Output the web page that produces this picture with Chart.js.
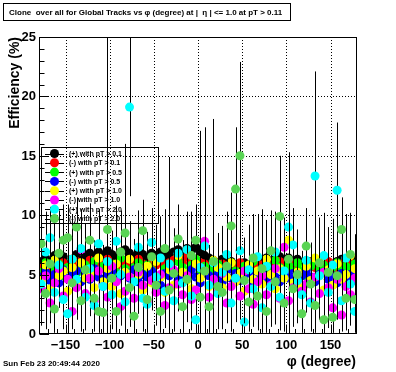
<!DOCTYPE html>
<html>
<head>
<meta charset="utf-8">
<script src="https://cdn.jsdelivr.net/npm/chart.js@4.4.1/dist/chart.umd.min.js"></script>
<style>
  html, body { margin: 0; padding: 0; background: #fff; }
  #wrap { width: 396px; height: 372px; }
</style>
</head>
<body>
<div id="wrap"><canvas id="c" width="396" height="372"></canvas></div>
<script>
// --- DATA ---
const phi = [
  -177.5,-172.5,-167.5,-162.5,-157.5,-152.5,-147.5,-142.5,-137.5,-132.5,
  -127.5,-122.5,-117.5,-112.5,-107.5,-102.5,-97.5,-92.5,-87.5,-82.5,
  -77.5,-72.5,-67.5,-62.5,-57.5,-52.5,-47.5,-42.5,-37.5,-32.5,
  -27.5,-22.5,-17.5,-12.5,-7.5,-2.5,2.5,7.5,12.5,17.5,
  22.5,27.5,32.5,37.5,42.5,47.5,52.5,57.5,62.5,67.5,
  72.5,77.5,82.5,87.5,92.5,97.5,102.5,107.5,112.5,117.5,
  122.5,127.5,132.5,137.5,142.5,147.5,152.5,157.5,162.5,167.5,
  172.5,177.5
];
const seriesLabels = [
  '(+) with pT > 0.1', '(-) with pT > 0.1', '(+) with pT > 0.5', '(-) with pT > 0.5',
  '(+) with pT > 1.0', '(-) with pT > 1.0', '(+) with pT > 2.0', '(-) with pT > 2.0'
];
const xTicks = [-150, -100, -50, 0, 50, 100, 150];
const yTicks = [0, 5, 10, 15, 20, 25];

const effPos01 = [
  6.1,6.4,5.9,6.6,6.2,6.5,6.0,6.3,6.7,6.2, 6.5,6.8,6.3,6.9,6.6,7.0,6.7,6.4,6.9,7.1,
  6.8,6.5,7.0,6.7,6.4,6.8,6.6,6.9,6.5,6.7, 6.9,7.1,6.8,7.2,7.0,7.3,6.9,6.6,6.4,6.2,
  6.0,6.3,5.9,6.1,5.8,5.7,6.0,5.8,6.1,6.0, 6.2,6.4,6.0,6.3,6.5,6.2,6.4,6.1,6.3,6.0,
  5.9,6.1,5.7,5.8,5.5,5.6,5.9,6.1,6.3,6.0, 6.4,6.2
];
const effNeg01 = [
  5.6,5.9,5.4,5.8,5.7,6.0,5.5,5.8,6.1,5.7, 5.9,6.2,5.6,6.0,5.8,6.3,5.9,5.7,6.1,6.2,
  5.8,6.0,6.3,5.9,5.7,6.1,5.8,6.2,5.9,6.0, 6.2,6.4,6.0,6.5,6.1,6.3,6.0,5.9,5.7,5.8,
  5.6,5.9,5.7,5.5,5.8,6.0,5.6,5.4,5.7,5.9, 5.8,6.0,5.7,5.9,6.1,5.8,5.6,5.9,5.7,5.5,
  5.8,6.0,5.6,5.9,5.7,6.1,5.8,5.5,5.9,5.7, 6.0,5.6
];
const effPos05 = [
  5.2,6.0,4.8,5.5,5.9,4.9,5.6,6.3,5.1,5.4, 5.8,5.0,6.1,5.3,5.7,4.7,5.9,5.2,6.4,5.5,
  4.9,5.6,6.0,5.1,5.8,5.4,6.2,4.8,5.5,5.9, 5.3,6.1,5.6,5.0,5.8,6.3,5.2,5.7,4.9,5.5,
  5.9,5.1,5.6,6.0,5.3,4.8,5.7,5.4,6.1,5.0, 5.5,5.9,5.2,6.2,5.6,5.0,5.8,5.3,6.0,5.5,
  4.9,5.7,6.1,5.4,5.8,5.1,5.6,6.0,5.3,5.7, 5.2,5.9
];
const effNeg05 = [
  4.8,5.2,4.5,5.0,4.3,5.4,4.7,4.9,5.3,4.4, 5.1,4.6,5.5,4.8,4.2,5.0,5.3,4.5,4.9,5.2,
  4.7,5.4,4.4,5.0,4.8,5.3,4.6,4.1,5.1,4.9, 5.2,4.5,5.0,4.7,5.4,4.8,4.3,5.1,4.9,4.6,
  5.0,4.4,5.3,4.7,5.1,4.5,4.9,5.2,4.3,4.8, 5.4,4.6,5.0,4.8,4.4,5.2,4.7,5.1,4.5,4.9,
  5.3,4.8,4.4,5.0,5.2,4.6,4.9,4.3,5.1,4.7, 5.0,4.5
];
const effPos10 = [
  4.5,5.8,3.8,6.2,4.9,5.3,3.6,5.6,4.2,6.0, 4.7,5.1,3.9,6.4,4.4,5.5,4.0,5.9,3.4,5.2,
  6.3,4.6,5.0,3.7,5.7,4.3,6.1,4.8,3.5,5.4, 4.1,6.6,5.2,4.5,3.8,5.9,4.7,5.3,4.0,6.2,
  5.6,3.9,4.8,6.0,4.4,5.1,3.6,5.8,4.6,5.3, 4.2,6.3,5.0,3.8,5.5,4.7,7.9,4.3,5.2,3.9,
  5.7,4.5,6.4,4.9,3.7,5.4,4.1,5.9,4.6,5.0, 6.6,5.5
];
const effNeg10 = [
  3.8,4.9,2.6,4.3,5.5,3.2,4.6,1.9,3.9,7.1, 3.4,4.7,2.8,5.3,4.0,3.1,5.7,4.4,2.3,3.6,
  4.8,3.0,5.2,4.1,2.7,4.5,3.5,5.0,2.4,3.9, 5.4,4.2,3.3,4.9,2.9,3.7,5.6,7.8,3.1,4.6,
  3.5,5.1,2.6,4.0,4.7,3.2,5.3,3.8,2.5,4.4, 4.9,3.3,4.1,5.5,3.0,7.3,2.8,3.9,5.0,3.6,
  4.2,2.7,4.8,3.4,5.2,3.9,2.2,4.6,1.6,4.0, 3.3,4.7
];
const effPos20 = [
  4.2,6.9,8.1,3.5,5.8,2.9,1.7,6.3,4.6,7.2, 3.1,5.5,2.4,7.6,4.0,6.1,3.3,7.8,5.0,2.7,
  19.1,4.4,7.3,3.0,2.5,7.7,4.8,6.4,3.6,5.9, 2.8,6.8,4.3,7.1,3.2,1.2,5.6,7.4,4.1,6.0,
  3.4,5.2,6.7,2.6,4.7,7.0,1.0,5.4,3.8,6.5, 2.2,5.7,4.0,6.9,3.1,5.3,9.0,7.5,4.5,3.3,
  6.2,2.6,13.3,4.9,6.6,3.5,5.8,12.1,2.8,6.4, 4.2,1.9
];
const effNeg20 = [
  7.6,3.4,5.9,2.1,6.8,7.9,8.1,4.3,9.0,2.8, 5.4,7.9,3.0,1.9,1.8,8.8,4.7,1.9,6.9,8.5,
  3.9,1.5,5.6,8.7,2.9,6.5,4.1,1.9,7.2,3.7, 5.1,8.0,2.3,4.6,6.6,7.9,3.1,5.3,2.3,6.1,
  4.0,3.5,5.7,9.1,12.2,15.0,4.5,2.7,6.4,3.2, 5.5,1.9,7.0,4.4,9.9,2.6,6.3,3.8,5.0,1.7,
  7.4,4.2,2.4,6.0,1.2,5.2,1.4,4.9,8.8,3.0, 6.7,2.9
];

const errPos01 = [
  0.6,0.7,0.5,0.8,0.6,0.7,0.5,0.6,0.8,0.6, 0.7,0.8,0.6,0.9,0.7,0.8,0.7,0.6,0.8,0.9,
  0.7,0.6,0.8,0.7,0.6,0.8,0.7,0.9,0.6,0.7, 0.8,0.9,0.7,0.9,0.8,0.9,0.7,0.6,0.6,0.5,
  0.5,0.6,0.5,0.6,0.5,0.5,0.6,0.5,0.6,0.5, 0.6,0.7,0.6,0.7,0.7,0.6,0.7,0.6,0.6,0.5,
  0.5,0.6,0.5,0.5,0.4,0.5,0.5,0.6,0.7,0.6, 0.7,0.6
];
const errNeg01 = [
  0.5,0.6,0.5,0.7,0.6,0.6,0.5,0.6,0.7,0.5, 0.6,0.7,0.5,0.7,0.6,0.8,0.6,0.6,0.7,0.7,
  0.6,0.7,0.8,0.6,0.6,0.7,0.6,0.8,0.6,0.7, 0.7,0.8,0.7,0.8,0.7,0.8,0.7,0.6,0.6,0.6,
  0.5,0.6,0.5,0.5,0.6,0.6,0.5,0.5,0.6,0.6, 0.6,0.7,0.6,0.6,0.7,0.6,0.6,0.6,0.5,0.5,
  0.6,0.6,0.5,0.6,0.5,0.6,0.6,0.5,0.6,0.5, 0.6,0.5
];
const errPos05 = [
  1.3,1.6,1.1,1.4,1.7,1.2,1.5,1.9,1.2,1.4, 1.6,1.2,1.8,1.3,1.5,1.1,1.7,1.3,1.9,1.4,
  1.2,1.5,1.7,1.3,1.6,1.4,1.8,1.1,1.5,1.6, 1.3,1.8,1.5,1.2,1.6,1.9,1.3,1.5,1.2,1.4,
  1.7,1.2,1.5,1.8,1.3,1.1,1.6,1.4,1.7,1.2, 1.5,1.6,1.3,1.8,1.4,1.2,1.6,1.3,1.7,1.5,
  1.1,1.5,1.8,1.4,1.6,1.2,1.5,1.7,1.3,1.5, 1.2,1.6
];
const errNeg05 = [
  1.4,1.5,1.2,1.4,1.1,1.6,1.3,1.4,1.5,1.2, 1.5,1.3,1.7,1.4,1.1,1.5,1.6,1.2,1.4,1.5,
  1.3,1.6,1.2,1.5,1.4,1.6,1.3,1.1,1.5,1.4, 1.5,1.2,1.4,1.3,1.6,1.4,1.2,1.5,1.4,1.3,
  1.5,1.2,1.6,1.3,1.5,1.2,1.4,1.5,1.1,1.4, 1.6,1.3,1.5,1.4,1.2,1.5,1.3,1.5,1.2,1.4,
  1.6,1.4,1.2,1.5,1.5,1.3,1.4,1.2,1.5,1.3, 1.4,1.2
];
const errPos10 = [
  2.4,3.0,2.1,3.2,2.6,2.8,2.0,2.9,2.3,3.1, 2.5,2.7,2.2,3.3,2.4,2.9,2.1,3.0,1.9,2.7,
  3.2,2.5,2.6,2.0,2.9,2.3,3.1,2.6,1.9,2.8, 2.2,3.4,2.7,2.4,2.1,3.0,2.5,2.8,2.2,3.2,
  2.9,2.1,2.6,3.1,2.4,2.7,2.0,3.0,2.5,2.8, 2.3,3.2,2.7,2.1,2.9,2.5,3.1,2.3,2.7,2.1,
  2.9,2.4,3.3,2.6,2.0,2.8,2.2,3.0,2.5,2.7, 2.1,2.9
];
const errNeg10 = [
  2.2,2.7,1.7,2.4,2.9,2.0,2.5,1.5,2.2,2.8, 2.0,2.6,1.8,2.8,2.3,1.9,3.0,2.4,1.6,2.1,
  2.6,1.9,2.8,2.3,1.7,2.5,2.1,2.7,1.6,2.2, 2.9,2.3,2.0,2.7,1.8,2.1,3.0,2.4,1.9,2.5,
  2.1,2.8,1.7,2.3,2.6,2.0,2.8,2.2,1.7,2.4, 2.7,2.0,2.3,2.9,1.9,2.5,1.8,2.2,2.7,2.1,
  2.4,1.8,2.6,2.0,2.8,2.2,1.5,2.5,1.3,2.3, 2.0,2.6
];
const errPos20 = [
  3.5,3.4,2.6,3.0,3.6,2.5,1.7,3.8,3.4,3.3, 2.8,4.0,2.2,2.9,3.5,3.7,2.9,3.0,3.9,2.6,
  7.5,3.6,3.1,2.8,2.4,2.9,3.8,3.5,3.1,9.0, 2.6,3.6,3.5,3.2,2.9,1.2,3.9,10.0,3.4,3.8,
  3.0,3.9,3.6,2.4,3.7,3.3,1.0,3.8,3.2,3.6, 2.1,3.9,3.4,3.4,2.8,3.7,3.0,3.1,3.6,2.9,
  3.8,2.4,8.8,3.7,3.6,3.0,3.9,5.7,2.6,3.7, 3.5,1.8
];
const errNeg20 = [
  3.0,3.0,3.8,2.0,3.6,3.0,2.8,3.5,2.5,2.6, 3.9,3.1,2.7,1.8,1.7,16.5,3.7,1.8,3.5,7.5,
  3.3,1.5,3.9,2.6,2.6,3.6,3.4,1.8,3.3,3.1, 3.8,2.9,2.2,3.6,3.7,3.0,14.0,3.9,2.2,12.0,
  3.4,3.1,3.9,2.8,5.2,7.9,3.6,2.5,3.7,2.9, 5.0,1.8,3.4,3.6,5.1,2.4,9.0,3.2,3.8,1.6,
  3.2,3.5,2.3,3.8,1.2,3.8,1.3,3.7,2.7,2.7, 3.5,2.6
];

// --- STYLE ---
const FONT = '"Liberation Sans", Arial, Helvetica, sans-serif';
const colors = ['#000000', '#ff0000', '#00ff00', '#0000ff', '#ffff00', '#ff00ff', '#00ffff', '#59d454'];
const effs = [effPos01, effNeg01, effPos05, effNeg05, effPos10, effNeg10, effPos20, effNeg20];
const errs = [errPos01, errNeg01, errPos05, errNeg05, errPos10, errNeg10, errPos20, errNeg20];
const MARKER_R = 4.5;

const datasets = effs.map((vals, i) => ({
  label: seriesLabels[i],
  data: phi.map((x, j) => ({ x, y: vals[j] })),
  errors: errs[i],
  showLine: false,
  pointRadius: MARKER_R,
  pointHoverRadius: MARKER_R,
  pointBorderWidth: 0,
  pointBackgroundColor: colors[i],
  pointBorderColor: colors[i],
  order: effs.length - 1 - i   // ROOT draws later graphs on top
}));

function hline(ctx, x1, x2, y) { ctx.moveTo(x1, y); ctx.lineTo(x2, y); }
function vline(ctx, x, y1, y2) { ctx.moveTo(x, y1); ctx.lineTo(x, y2); }

// ROOT-like pad: dotted grid, error bars, frame, inner ticks, labels, title box, legend
const rootPad = {
  id: 'rootPad',
  beforeDatasetsDraw(chart) {
    const { ctx, chartArea: a, scales: { x, y } } = chart;
    ctx.save();
    ctx.strokeStyle = '#000';
    ctx.lineWidth = 1;
    ctx.setLineDash([1, 2]);
    ctx.beginPath();
    xTicks.forEach(v => vline(ctx, Math.round(x.getPixelForValue(v)) + 0.5, a.top, a.bottom));
    yTicks.slice(1, -1).forEach(v => hline(ctx, a.left, a.right, Math.round(y.getPixelForValue(v)) + 0.5));
    ctx.stroke();
    ctx.restore();
  },
  beforeDatasetDraw(chart, args) {
    const { ctx, chartArea: a, scales: { x, y } } = chart;
    const ds = chart.data.datasets[args.index];
    ctx.save();
    ctx.beginPath();
    ctx.rect(a.left, a.top, a.right - a.left, a.bottom - a.top);
    ctx.clip();
    ctx.strokeStyle = '#000';
    ctx.lineWidth = 1;
    ctx.beginPath();
    ds.data.forEach((p, j) => {
      const e = ds.errors[j];
      const px = Math.round(x.getPixelForValue(p.x)) + 0.5;
      vline(ctx, px, y.getPixelForValue(p.y - e), y.getPixelForValue(p.y + e));
    });
    ctx.stroke();
    ctx.restore();
  },
  afterDatasetsDraw(chart) {
    const { ctx, chartArea: a, scales: { x, y } } = chart;
    ctx.save();
    ctx.strokeStyle = '#000';
    ctx.fillStyle = '#000';
    ctx.lineWidth = 1;

    // frame
    const L = Math.round(a.left) + 0.5, R = Math.round(a.right) - 0.5;
    const T = Math.round(a.top) + 0.5, B = Math.round(a.bottom) - 0.5;
    ctx.strokeRect(L, T, R - L, B - T);

    // ticks (inside the frame)
    ctx.beginPath();
    for (let v = 0; v <= 25; v++) {
      const py = Math.round(y.getPixelForValue(v)) + 0.5;
      hline(ctx, L, L + (v % 5 === 0 ? 9.5 : 5), py);
    }
    for (let v = -170; v <= 170; v += 10) {
      const px = Math.round(x.getPixelForValue(v)) + 0.5;
      vline(ctx, px, B, B - (v % 50 === 0 ? 9 : 4.5));
    }
    ctx.stroke();

    // tick labels
    ctx.font = 'bold 13px ' + FONT;
    ctx.textAlign = 'right';
    ctx.textBaseline = 'middle';
    yTicks.forEach(v => ctx.fillText(String(v), a.left - 3, y.getPixelForValue(v) + 0.5));
    ctx.textAlign = 'center';
    xTicks.forEach(v => {
      const s = v < 0 ? '\u2212' + Math.abs(v) : String(v);
      ctx.fillText(s, x.getPixelForValue(v), a.bottom + 11);
    });

    // axis titles
    ctx.font = 'bold 14px ' + FONT;
    ctx.textBaseline = 'alphabetic';
    ctx.textAlign = 'right';
    ctx.fillText('\u03c6 (degree)', a.right - 1, 366);
    ctx.save();
    ctx.translate(19, a.top);
    ctx.rotate(-Math.PI / 2);
    ctx.textAlign = 'right';
    ctx.fillText('Efficiency (%)', 0, 0);
    ctx.restore();

    // title box
    ctx.fillStyle = '#fff';
    ctx.fillRect(3, 3, 287, 17);
    ctx.strokeRect(3.5, 3.5, 287, 17);
    ctx.fillStyle = '#000';
    ctx.font = 'bold 8px ' + FONT;
    ctx.textAlign = 'left';
    ctx.fillText('Clone  over all for Global Tracks vs \u03c6 (degree) at |  \u03b7 | <= 1.0 at pT > 0.11', 9, 15);

    // date stamp
    ctx.fillText('Sun Feb 23 20:49:44 2020', 3, 366);

    // legend
    const lx = 41, ly = 147, lw = 117, lh = 76, rowH = 9.3;
    ctx.strokeRect(lx + 0.5, ly + 0.5, lw, lh);
    ctx.font = 'bold 7px ' + FONT;
    ctx.textBaseline = 'middle';
    seriesLabels.forEach((label, i) => {
      const ry = ly + 6.5 + i * rowH;
      ctx.beginPath();
      hline(ctx, 45, 64, Math.round(ry) + 0.5);
      ctx.stroke();
      ctx.fillStyle = colors[i];
      ctx.beginPath();
      ctx.arc(54.5, ry, MARKER_R, 0, Math.PI * 2);
      ctx.fill();
      ctx.fillStyle = '#000';
      ctx.fillText(label, 69, ry + 0.5);
    });
    ctx.restore();
  }
};

new Chart(document.getElementById('c'), {
  type: 'scatter',
  data: { datasets },
  options: {
    responsive: false,
    animation: false,
    devicePixelRatio: 1,
    layout: { padding: { left: 0, top: 37, right: 39, bottom: 0 } },
    plugins: { legend: { display: false }, tooltip: { enabled: false }, title: { display: false } },
    scales: {
      x: {
        type: 'linear', min: -180, max: 180,
        grid: { display: false }, border: { display: false }, ticks: { display: false },
        afterFit: s => { s.height = 38; }
      },
      y: {
        type: 'linear', min: 0, max: 25,
        grid: { display: false }, border: { display: false }, ticks: { display: false },
        afterFit: s => { s.width = 39; }
      }
    }
  },
  plugins: [rootPad]
});
</script>
</body>
</html>
